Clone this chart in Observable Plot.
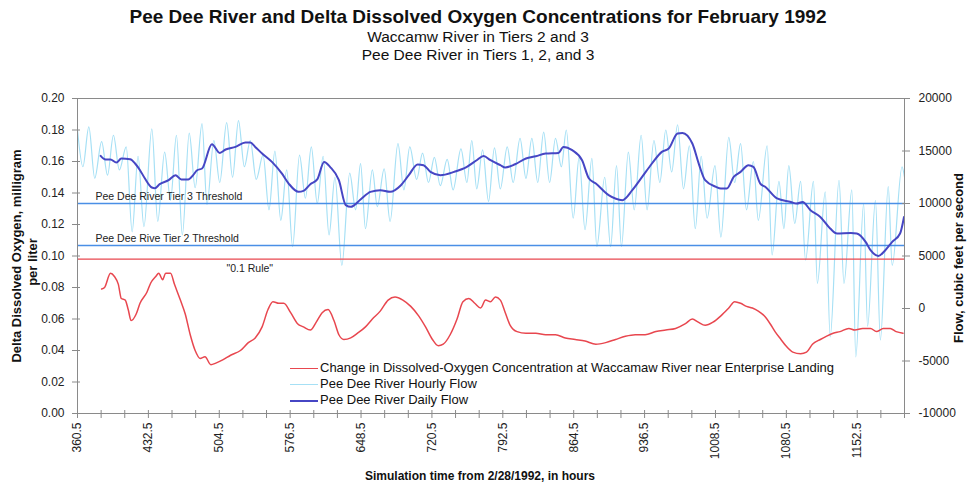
<!DOCTYPE html>
<html><head><meta charset="utf-8">
<script src="https://cdn.jsdelivr.net/npm/d3@7"></script>
<script src="https://cdn.jsdelivr.net/npm/@observablehq/plot@0.6"></script>
<style>
body{margin:0;background:#fff;font-family:"Liberation Sans",Arial,sans-serif;color:#111;}
#wrap{position:relative;width:967px;height:486px;overflow:hidden;background:#fff}
#wrap svg{position:absolute;left:0;top:0}
.abs{position:absolute;white-space:nowrap}
.ctr{transform:translate(-50%,-50%)}
.rot{transform:translate(-50%,-50%) rotate(-90deg)}
.title{font-weight:bold;font-size:19px}
.sub{font-size:15.5px}
.axt{font-weight:bold;font-size:12px}
.axv{font-weight:bold;font-size:13px}
.legend{font-size:13px;line-height:16px}
.sw{display:inline-block;width:28px;height:0;vertical-align:middle;margin-right:2px}
</style></head><body>
<div id="wrap">
  <div class="abs ctr title" style="left:478px;top:17px">Pee Dee River and Delta Dissolved Oxygen Concentrations for February 1992</div>
  <div class="abs ctr sub" style="left:478px;top:37px">Waccamw River in Tiers 2 and 3</div>
  <div class="abs ctr sub" style="left:478px;top:55px">Pee Dee River in Tiers 1, 2, and 3</div>
  <div class="abs rot axv" style="left:16px;top:256px">Delta Dissolved Oxygen, milligram</div>
  <div class="abs rot axv" style="left:32px;top:262px">per liter</div>
  <div class="abs rot axv" style="left:958px;top:258px">Flow, cubic feet per second</div>
  <div class="abs ctr axt" style="left:480px;top:476px">Simulation time from 2/28/1992, in hours</div>
  <div class="abs legend" id="legend" style="left:290px;top:360px"></div>
</div>
<script>
// ---- data ----
const redHours = [385,388,394,398,402,405,409,412,415,420,424,431,435,440,443,447,450,455,459,465,470,475,480,485,490,496,501,508,516,526,534,541,548,554,559,565,570,577,584,590,597,603,609,615,621,626,631,638,645,653,660,668,676,683,691,699,707,714,721,727,732,739,746,752,758,764,770,775,780,785,790,795,800,807,816,826,836,846,856,866,876,887,897,907,917,927,937,948,958,968,978,985,991,998,1006,1014,1022,1028,1034,1040,1046,1052,1058,1064,1069,1075,1080,1087,1095,1101,1107,1115,1121,1128,1135,1144,1150,1158,1166,1172,1179,1186,1192,1199];
const redValues = [0.079,0.080,0.089,0.087,0.082,0.073,0.072,0.066,0.059,0.063,0.070,0.077,0.083,0.087,0.089,0.085,0.089,0.089,0.082,0.072,0.063,0.050,0.040,0.035,0.036,0.031,0.032,0.034,0.037,0.040,0.045,0.048,0.055,0.066,0.071,0.070,0.070,0.064,0.057,0.055,0.053,0.058,0.064,0.066,0.059,0.050,0.047,0.048,0.051,0.055,0.060,0.065,0.072,0.074,0.072,0.068,0.062,0.055,0.047,0.043,0.044,0.050,0.060,0.071,0.073,0.070,0.067,0.072,0.071,0.074,0.072,0.064,0.056,0.052,0.051,0.051,0.050,0.050,0.048,0.047,0.046,0.044,0.045,0.047,0.049,0.050,0.050,0.052,0.053,0.054,0.057,0.060,0.058,0.056,0.058,0.062,0.067,0.071,0.070,0.068,0.067,0.065,0.062,0.057,0.052,0.047,0.043,0.039,0.038,0.039,0.044,0.047,0.049,0.051,0.052,0.054,0.053,0.054,0.054,0.052,0.054,0.054,0.052,0.051];

const dailyHours = [384,389,394,400,405,414,419,424,429,436,439,444,453,460,466,473,478,482,487,497,505,511,521,531,536,541,548,558,568,575,585,590,597,604,611,617,626,633,638,648,658,668,678,689,697,706,712,719,729,743,756,766,773,780,790,795,805,816,826,836,849,854,863,873,880,887,900,914,924,934,944,954,961,970,975,985,992,998,1009,1014,1020,1027,1034,1042,1047,1054,1059,1071,1085,1091,1097,1105,1115,1125,1132,1146,1152,1161,1166,1174,1181,1188,1196,1200];
const dailyFlow = [14530,14190,14190,13900,14290,14220,13810,13170,12380,11520,11460,11840,12220,12700,12290,12290,12700,13170,13330,15650,14820,15140,15390,15810,15810,15390,14760,13960,12860,11900,11110,11200,11840,12290,13960,13490,12220,9840,9680,10380,11110,11270,11110,11740,12700,13720,13650,13010,12700,13010,13490,14120,14530,14120,13650,13430,13740,14290,14500,14760,14820,15390,15080,14120,12380,11900,10790,10320,11270,12530,13810,14920,15240,16670,16720,15710,13650,12220,11590,11430,11430,12530,13010,13650,13490,11900,11590,10480,10150,10000,10150,9360,8720,7620,7140,7200,7140,6340,5550,5010,5550,6340,7140,8720];

const hourlyHours = [360.5,366,372,378,385,391,397,403,410,416,422,428,436,442,449,455,461,467,474,480,487,492,499,505,512,518,524,530,536,542,549,555,561,567,573,579,586,592,598,604,610,616,622,629,637,643,648,653,660,665,672,678,686,692,698,705,711,717,723,729,736,742,750,756,761,766,772,778,784,790,797,803,810,816,822,828,834,840,846,852,857,864,870,876,883,888,896,902,908,913,920,926,933,939,946,952,958,964,970,976,982,988,994,1000,1008,1014,1022,1028,1034,1040,1047,1052,1061,1066,1073,1078,1083,1089,1095,1100,1108,1112,1120,1125,1134,1139,1147,1151,1159,1163,1171,1176,1184,1188,1198,1200.5];
const hourlyFlow = [17000,13500,17300,12400,15900,12700,16500,13200,15400,7300,14500,7800,17100,8300,14900,10300,16500,7000,16700,11500,17600,9900,16000,12000,17700,12500,17900,13500,16000,12300,14600,9400,15000,8400,13200,5900,14600,10500,15400,10000,14500,7000,12500,4100,12900,9400,13800,7600,13200,9700,13300,8300,15700,11300,15400,12300,14800,12000,14400,11700,14200,11300,15200,12000,16000,11400,15100,10200,15300,11400,15400,12000,16200,12400,16200,12000,16800,12000,16200,13500,17000,8600,14400,7500,14300,5900,12500,5900,13600,5900,14900,9400,16500,9400,16000,12000,17000,13000,17500,11400,15500,7600,14500,8600,13600,6800,16300,12000,15700,9400,14000,8400,15500,5100,12100,7600,13600,8100,12100,4600,12100,2400,11100,-2700,12200,2400,11300,-4600,10000,-1700,10300,-3000,11600,4100,13500,12500];

const thresholdNames = ["Pee Dee River Tier 3 Threshold", "Pee Dee Rive Tier 2 Threshold"];
const thresholdFlows = [10000, 6000];
const ruleName = "\"0.1 Rule\"";
const ruleValue = 0.098;

const leftTicks = [0,0.02,0.04,0.06,0.08,0.10,0.12,0.14,0.16,0.18,0.20];
const flowTicks = [-10000,-5000,0,5000,10000,15000,20000];
const xTicks = d3.range(360.5, 1200.6, 24);

const seriesNames = ["Change in Dissolved-Oxygen Concentration at Waccamaw River near Enterprise Landing","Pee Dee River Hourly Flow","Pee Dee River Daily Flow"];
const seriesColors = ["#e8474f","#a6e0f5","#4646c4"];
const thresholdColor = "#4a8fe6";

// ---- helpers ----
const toY = f => (f + 10000) / 30000 * 0.2;
const fromY = y => Math.round(y / 0.2 * 30000 - 10000);

const red = redHours.map((h,i)=>({h, v: redValues[i]}));
const daily = dailyHours.map((h,i)=>({h, f: dailyFlow[i]}));
const hourly = hourlyHours.map((h,i)=>({h, f: hourlyFlow[i]}));
const thresholdY = thresholdFlows.map(toY);

const axisGray = "#8a8a8a";

const chart = Plot.plot({
  width: 967, height: 486,
  marginTop: 98, marginBottom: 73, marginLeft: 77, marginRight: 63,
  style: {fontFamily: "'Liberation Sans', Arial, sans-serif", fontSize: "12px", color: "#222", background: "transparent"},
  x: {domain: [360.5, 1200.5]},
  y: {domain: [0, 0.2]},
  marks: [
    Plot.line(hourly, {x: "h", y: d => toY(d.f), stroke: seriesColors[1], strokeWidth: 1.2, curve: "monotone-x"}),
    Plot.ruleY(thresholdY, {stroke: thresholdColor, strokeWidth: 1.3}),
    Plot.ruleY([ruleValue], {stroke: seriesColors[0], strokeWidth: 1.3}),
    Plot.line(daily, {x: "h", y: d => toY(d.f), stroke: seriesColors[2], strokeWidth: 2, curve: "monotone-x"}),
    Plot.line(red, {x: "h", y: "v", stroke: seriesColors[0], strokeWidth: 1.5, curve: "monotone-x"}),
    Plot.text(thresholdNames, {frameAnchor: "left", y: (d, i) => thresholdY[i], text: d => d, dx: 18, dy: -7, textAnchor: "start", fontSize: 10.5, fill: "#222"}),
    Plot.text([ruleName], {frameAnchor: "left", y: () => ruleValue, text: d => d, dx: 149, dy: 9, textAnchor: "start", fontSize: 10.5, fill: "#222"}),
    Plot.frame({stroke: axisGray}),
    Plot.axisY({ticks: leftTicks, tickFormat: d3.format(".2f"), tickSize: 5, tickPadding: 8, label: null, stroke: axisGray, fill: "#222"}),
    Plot.axisY({ticks: leftTicks, tickFormat: () => "", tickSize: -3, label: null, stroke: axisGray}),
    Plot.axisY(flowTicks.map(toY), {anchor: "right", tickFormat: d => String(fromY(d)), tickSize: 5, tickPadding: 9, label: null, stroke: axisGray, fill: "#222"}),
    Plot.axisY(flowTicks.map(toY), {anchor: "right", tickFormat: () => "", tickSize: -3, label: null, stroke: axisGray}),
    Plot.axisX(xTicks, {tickRotate: -90, tickFormat: d => ((d - 360.5) % 72 === 0 && d < 1200) ? d.toFixed(1) : "", tickSize: 5, tickPadding: 4, label: null, stroke: axisGray, fill: "#222"}),
    Plot.axisX(xTicks, {tickFormat: () => "", tickSize: -3, label: null, stroke: axisGray})
  ]
});
document.getElementById("wrap").insertBefore(chart, document.getElementById("wrap").firstChild);

// legend
const lg = document.getElementById("legend");
seriesNames.forEach((n,i)=>{
  const row = document.createElement("div");
  const sw = document.createElement("span");
  sw.className = "sw";
  sw.style.borderTop = (i===2?2:1.5) + "px solid " + seriesColors[i];
  row.appendChild(sw);
  row.appendChild(document.createTextNode(n));
  lg.appendChild(row);
});
</script>
</body></html>
